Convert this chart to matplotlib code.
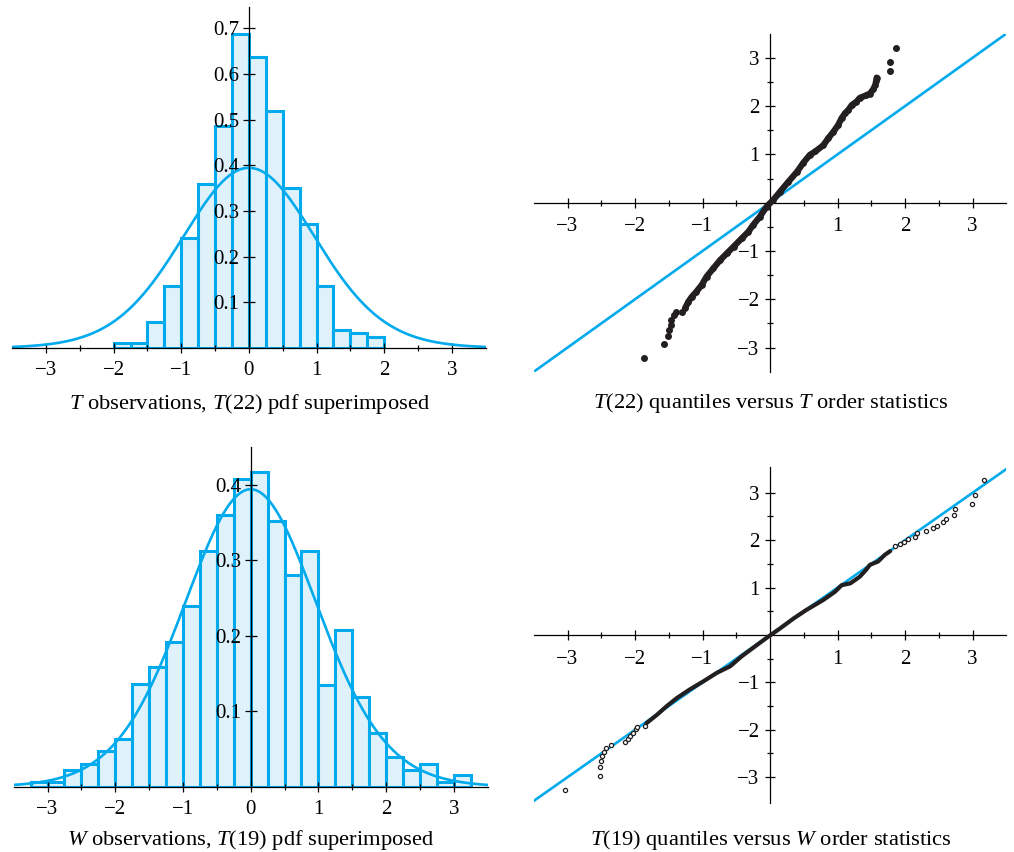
import numpy as np
import matplotlib
matplotlib.use('Agg')
import matplotlib.pyplot as plt
from math import gamma, pi, sqrt

plt.rcParams['font.family'] = ['Liberation Serif', 'DejaVu Serif']
plt.rcParams['mathtext.fontset'] = 'custom'
plt.rcParams['mathtext.rm'] = 'Liberation Serif'
plt.rcParams['mathtext.it'] = 'Liberation Serif:italic'

# histogram of T observations (density, bin width 0.25)
t_edges = [-2.0, -1.75, -1.5, -1.25, -1.0, -0.75, -0.5, -0.25, 0.0,
           0.25, 0.5, 0.75, 1.0, 1.25, 1.5, 1.75, 2.0]
t_heights = [0.010, 0.010, 0.056, 0.136, 0.240, 0.360, 0.486, 0.687,
             0.638, 0.519, 0.351, 0.272, 0.136, 0.039, 0.033, 0.025]
t_df = 22

# histogram of W observations
w_edges = [-3.25, -3.0, -2.75, -2.5, -2.25, -2.0, -1.75, -1.5, -1.25, -1.0,
           -0.75, -0.5, -0.25, 0.0, 0.25, 0.5, 0.75, 1.0, 1.25, 1.5, 1.75,
           2.0, 2.25, 2.5, 2.75, 3.0, 3.25]
w_heights = [0.007, 0.007, 0.023, 0.031, 0.048, 0.063, 0.136, 0.159, 0.192,
             0.240, 0.312, 0.360, 0.407, 0.416, 0.352, 0.280, 0.312, 0.135,
             0.207, 0.119, 0.071, 0.040, 0.023, 0.031, 0.007, 0.016]
w_df = 19

# T order statistics (x) vs T(22) quantiles (y): dense band and loose tail points
qt_band_x = [-1.26, -1.21, -1.16, -1.09, -1.01, -0.94, -0.84, -0.74, -0.64, -0.54,
             -0.42, -0.32, -0.25, -0.15, -0.05, 0.05, 0.15, 0.27, 0.40, 0.49,
             0.59, 0.67, 0.79, 0.86, 0.94, 1.01, 1.06, 1.11, 1.16, 1.21, 1.28,
             1.33, 1.42, 1.48, 1.53, 1.56, 1.57, 1.58]
qt_band_y = [-2.19, -2.05, -1.95, -1.84, -1.70, -1.53, -1.36, -1.19, -1.05, -0.91,
             -0.74, -0.60, -0.46, -0.29, -0.08, 0.06, 0.23, 0.43, 0.64, 0.82,
             0.99, 1.06, 1.19, 1.33, 1.47, 1.61, 1.75, 1.85, 1.92, 2.02, 2.09,
             2.17, 2.22, 2.26, 2.35, 2.44, 2.51, 2.59]
qt_tail_x = [-1.87, -1.57, -1.51, -1.49, -1.47, -1.46, -1.43, -1.39, -1.31,
             1.77, 1.77, 1.87]
qt_tail_y = [-3.22, -2.93, -2.76, -2.64, -2.53, -2.43, -2.33, -2.27, -2.26,
             2.73, 2.91, 3.20]

# W order statistics (x) vs T(19) quantiles (y)
qw_band_x = [-1.83, -1.68, -1.53, -1.38, -1.19, -0.99, -0.79, -0.59, -0.42, -0.25,
             -0.05, 0.15, 0.35, 0.54, 0.79, 0.96, 1.06, 1.19, 1.33, 1.42, 1.48,
             1.60, 1.70, 1.78]
qw_band_y = [-1.86, -1.69, -1.50, -1.33, -1.15, -0.98, -0.80, -0.66, -0.45, -0.27,
             -0.06, 0.14, 0.35, 0.53, 0.74, 0.91, 1.05, 1.09, 1.23, 1.37, 1.48,
             1.55, 1.69, 1.77]
qw_tail_x = [-3.04, -2.52, -2.52, -2.51, -2.49, -2.46, -2.43, -2.36, -2.15, -2.11,
             -2.07, -2.03, -1.99, -1.97, -1.85, 1.85, 1.93, 1.99, 2.05, 2.15, 2.17,
             2.31, 2.42, 2.47, 2.56, 2.60, 2.73, 2.74, 2.99, 3.03, 3.17]
qw_tail_y = [-3.28, -2.97, -2.78, -2.65, -2.55, -2.47, -2.38, -2.33, -2.26, -2.19,
             -2.14, -2.07, -1.98, -1.95, -1.91, 1.88, 1.93, 1.97, 2.03, 2.07, 2.15,
             2.19, 2.25, 2.31, 2.38, 2.45, 2.53, 2.65, 2.77, 2.95, 3.27]

x_ticks = [-3, -2, -1, 0, 1, 2, 3]
x_tick_labels = ['\u22123', '\u22122', '\u22121', '0', '1', '2', '3']
qq_ticks = [-3, -2, -1, 1, 2, 3]
qq_tick_labels = ['\u22123', '\u22122', '\u22121', '1', '2', '3']
half_ticks = [-3.5, -2.5, -1.5, -0.5, 0.5, 1.5, 2.5, 3.5]

BLUE = '#00AAEC'
FILL = '#DFF2FB'


def t_pdf(x, df):
    c = gamma((df + 1) / 2) / (sqrt(df * pi) * gamma(df / 2))
    return c * (1 + x ** 2 / df) ** (-(df + 1) / 2)


def cross_axes(ax):
    # axes drawn through the origin, like a textbook figure
    ax.spines['left'].set_position(('data', 0))
    ax.spines['bottom'].set_position(('data', 0))
    ax.spines['top'].set_visible(False)
    ax.spines['right'].set_visible(False)
    for s in ('left', 'bottom'):
        ax.spines[s].set_linewidth(0.9)
    ax.set_facecolor('none')
    ax.tick_params(which='major', direction='inout', length=7, width=0.9,
                   labelsize=15, color='black')
    ax.tick_params(which='minor', direction='inout', length=5, width=0.9)


fig = plt.figure(figsize=(10.14, 8.52), dpi=100)

ax1 = fig.add_axes([0.012, 0.5915, 0.467, 0.4006])
ax2 = fig.add_axes([0.5264, 0.5637, 0.466, 0.3968])
ax3 = fig.add_axes([0.0135, 0.0763, 0.4674, 0.3994])
ax4 = fig.add_axes([0.5264, 0.0572, 0.466, 0.395])

xs = np.linspace(-3.5, 3.5, 500)

for ax, edges, heights, df, ytop, yt in [
        (ax1, t_edges, t_heights, t_df, 0.747, [0.1, 0.2, 0.3, 0.4, 0.5, 0.6, 0.7]),
        (ax3, w_edges, w_heights, w_df, 0.45, [0.1, 0.2, 0.3, 0.4])]:
    ax.bar(edges[:-1], heights, width=np.diff(edges), align='edge',
           facecolor=FILL, edgecolor=BLUE, linewidth=2.2, zorder=1)
    ax.plot(xs, t_pdf(xs, df), color=BLUE, lw=1.9, zorder=2)
    cross_axes(ax)
    ax.set_xlim(-3.5, 3.5)
    ax.set_ylim(0, ytop)
    ax.set_xticks(x_ticks)
    ax.set_xticklabels(x_tick_labels)
    ax.set_xticks(half_ticks[1:-1], minor=True)
    ax.set_yticks(yt)
    ax.set_yticklabels(['%.1f' % v for v in yt])
    ax.tick_params(axis='x', which='major', pad=6)
    ax.tick_params(axis='y', which='major', pad=3, length=8)

for ax, bx, by, tx, ty, ylim, filled in [
        (ax2, qt_band_x, qt_band_y, qt_tail_x, qt_tail_y, 3.5, True),
        (ax4, qw_band_x, qw_band_y, qw_tail_x, qw_tail_y, 3.55, False)]:
    ax.axline((0, 0), slope=1, color=BLUE, lw=1.9, zorder=2)
    if filled:
        ax.plot(bx, by, color='#231f20', lw=4.5, marker='o', ms=3.8,
                solid_capstyle='round', solid_joinstyle='round', zorder=3)
        ax.plot(tx, ty, 'o', color='#231f20', ms=4.0, zorder=3)
    else:
        ax.plot(bx, by, color='#231f20', lw=3.0,
                solid_capstyle='round', solid_joinstyle='round', zorder=3)
        ax.plot(tx, ty, 'o', mfc='white', mec='#231f20', ms=3.0, mew=0.9, zorder=3)
    cross_axes(ax)
    ax.set_xlim(-3.5, 3.5)
    ax.set_ylim(-ylim, ylim)
    ax.set_xticks(qq_ticks)
    ax.set_xticklabels(qq_tick_labels)
    ax.set_yticks(qq_ticks)
    ax.set_yticklabels(qq_tick_labels)
    ax.set_xticks(half_ticks[1:-1], minor=True)
    ax.set_yticks(half_ticks[1:-1], minor=True)
    ax.tick_params(axis='x', which='major', pad=7)
    ax.tick_params(axis='y', which='major', pad=4)

cap = dict(fontsize=16.2, ha='center', va='baseline')
fig.text(0.2465, 1 - 408.7 / 852, r'$T$ observations, $T$(22) pdf superimposed', **cap)
fig.text(0.760, 1 - 408.3 / 852, r'$T$(22) quantiles versus $T$ order statistics', **cap)
fig.text(0.247, 1 - 845 / 852, r'$W$ observations, $T$(19) pdf superimposed', **cap)
fig.text(0.760, 1 - 845 / 852, r'$T$(19) quantiles versus $W$ order statistics', **cap)

fig.savefig('out.png', dpi=100)
